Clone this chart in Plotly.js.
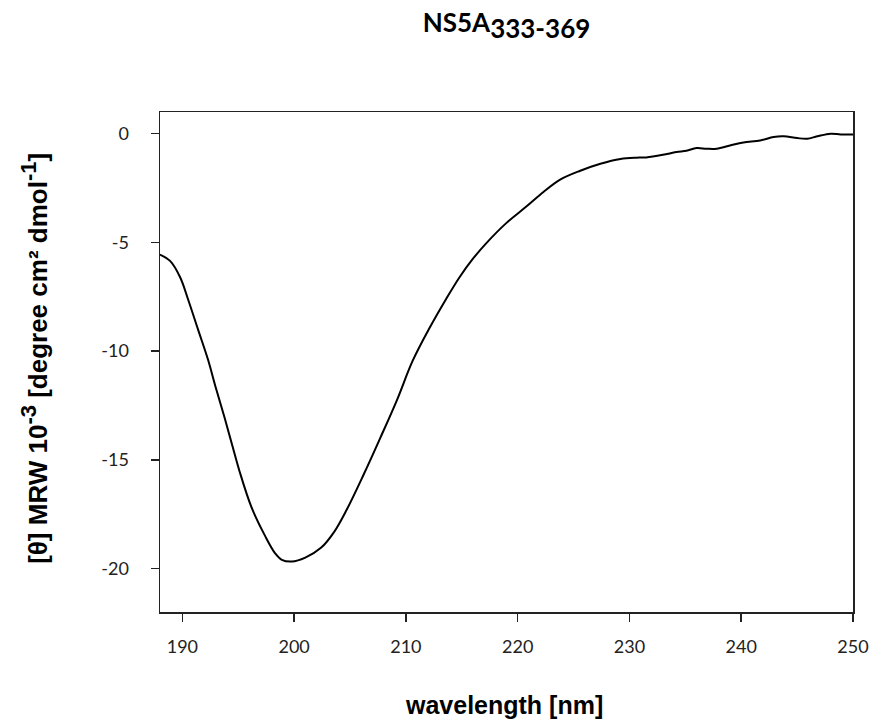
<!DOCTYPE html>
<html>
<head>
<meta charset="utf-8">
<script src="https://cdn.plot.ly/plotly-3.0.1.min.js"></script>
<style>html,body{margin:0;padding:0;background:#fff;}</style>
</head>
<body>
<div id="chart" style="width:871px;height:727px;"></div>
<script>
const wavelength = [188, 188.9, 189.8, 190.5, 191.4, 192.3, 193.0, 193.8, 194.5, 195.1, 196.2, 197.4, 198.3, 198.9, 199.8, 201.0, 202.4, 203.6, 204.7, 206.2, 207.7, 209.2, 210.6, 212.1, 213.6, 214.8, 216.0, 217.2, 219.0, 220.8, 222.3, 223.8, 225.6, 227.4, 229.2, 230.6, 231.5, 233.0, 234.2, 235.1, 236.0, 236.9, 237.8, 239.0, 240.2, 241.7, 242.9, 243.8, 245.0, 245.9, 246.8, 248.0, 248.9, 250.0];
const ellipticity = [-5.56, -5.85, -6.6, -7.6, -9.0, -10.4, -11.7, -13.1, -14.4, -15.5, -17.2, -18.5, -19.3, -19.6, -19.68, -19.5, -19.05, -18.3, -17.3, -15.7, -14.0, -12.25, -10.45, -8.95, -7.6, -6.6, -5.75, -5.03, -4.1, -3.34, -2.68, -2.11, -1.7, -1.38, -1.16, -1.1, -1.09, -0.97, -0.84, -0.78, -0.66, -0.69, -0.69, -0.54, -0.4, -0.31, -0.15, -0.12, -0.2, -0.23, -0.12, 0.0, -0.03, -0.03];
const xTicks = [190, 200, 210, 220, 230, 240, 250];
const yTicks = [-20, -15, -10, -5, 0];

const trace = {
  x: wavelength,
  y: ellipticity,
  type: 'scatter',
  mode: 'lines',
  line: {color: '#000', width: 2, shape: 'spline', smoothing: 1},
  hoverinfo: 'skip'
};

const layout = {
  width: 871,
  height: 727,
  margin: {l: 160, r: 18, t: 112, b: 115},
  paper_bgcolor: '#fff',
  plot_bgcolor: '#fff',
  showlegend: false,
  title: {
    text: "<b>NS5A<sub><span style='font-size:26px'>333-369</span></sub></b>",
    font: {family: 'Lato, "Open Sans", sans-serif', size: 26, color: '#000'},
    x: 0.5, xref: 'paper', xanchor: 'center',
    y: 0.968, yref: 'container', yanchor: 'middle'
  },
  xaxis: {
    range: [188, 250],
    tickvals: xTicks,
    ticktext: xTicks.map(String),
    ticks: 'outside', ticklen: 8, tickwidth: 1.5, tickcolor: '#222',
    ticklabelstandoff: 10,
    showline: true, linecolor: '#222', linewidth: 1.5, mirror: true,
    showgrid: false, zeroline: false,
    tickfont: {family: 'Lato, sans-serif', size: 18, color: '#222'}
  },
  yaxis: {
    range: [-22, 1],
    tickvals: yTicks,
    ticktext: yTicks.map(String),
    ticks: 'outside', ticklen: 8, tickwidth: 1.5, tickcolor: '#222',
    ticklabelstandoff: 18,
    showline: true, linecolor: '#222', linewidth: 1.5, mirror: true,
    showgrid: false, zeroline: false,
    tickfont: {family: 'Lato, sans-serif', size: 18, color: '#222'}
  },
  annotations: [
    {
      text: '<b>wavelength [nm]</b>',
      xref: 'paper', yref: 'paper', x: 0.497, y: -0.186,
      xanchor: 'center', yanchor: 'middle', showarrow: false,
      font: {family: 'Arial, "Liberation Sans", sans-serif', size: 25, color: '#000'}
    },
    {
      text: "<b>[θ] MRW 10<sup><span style='font-size:22px'>-3</span></sup> [degree cm² dmol<sup><span style='font-size:22px'>-1</span></sup>]</b>",
      xref: 'paper', yref: 'paper', x: -0.182, y: 0.508,
      xanchor: 'center', yanchor: 'middle', showarrow: false, textangle: -90,
      font: {family: 'Arial, "Liberation Sans", sans-serif', size: 26, color: '#000'}
    }
  ]
};

Plotly.newPlot('chart', [trace], layout, {displayModeBar: false, staticPlot: true});
</script>
</body>
</html>
